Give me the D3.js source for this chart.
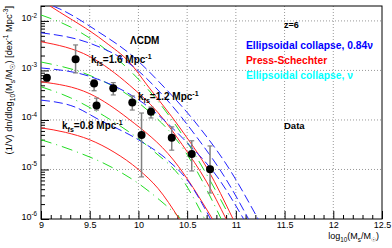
<!DOCTYPE html>
<html>
<head>
<meta charset="utf-8">
<script src="https://cdn.jsdelivr.net/npm/d3@7"></script>
<style>
  body { margin: 0; background: #fff; }
  svg { display: block; }
  text { font-family: "Liberation Sans", Arial, sans-serif; }
</style>
</head>
<body>
<div id="chart"></div>
<script>
// ---- data (log10 M_s, log10 phi) ----
const dataMass  = [9.06, 9.355, 9.545, 9.57, 9.742, 9.937, 10.032, 10.129, 10.342, 10.547, 10.735];
const dataPhi   = [-3.146, -2.774, -3.263, -3.707, -3.36, -3.65, -4.303, -3.832, -4.357, -4.687, -4.996];
const dataErrHi = [-3.09, -2.485, -3.19, -3.56, -3.246, -3.515, -3.86, -3.74, -4.14, -4.42, -4.525];
const dataErrLo = [-3.226, -3.05, -3.41, -3.80, -3.495, -3.80, -5.15, -3.96, -4.61, -5.03, -5.475];

// Press-Schechter (red)
const psLCDM = [[9,-1.58],[9.123,-1.737],[9.657,-2.424],[9.914,-2.848],[10.088,-3.293],[10.427,-4.162],[10.715,-5.01],[10.971,-6.0]];
const ps16   = [[9,-2.42],[9.5,-2.72],[9.91,-3.3],[10.2,-3.85],[10.45,-4.5],[10.7,-5.25],[10.9,-6.0]];
const ps12   = [[9,-3.23],[9.5,-3.47],[9.9,-3.98],[10.36,-4.81],[10.76,-6.0]];
const ps08   = [[9,-4.16],[9.25,-4.25],[9.5,-4.40],[9.75,-4.65],[10,-5.0],[10.2,-5.38],[10.42,-6.0]];

// Ellipsoidal collapse, 0.84 nu (blue)
const ec84LCDM = [[9,-1.62],[9.144,-1.717],[9.606,-2.242],[9.914,-2.667],[10.242,-3.293],[10.581,-4.04],[10.92,-4.95],[11.228,-6.0]];
const ec84_16  = [[9,-2.24],[9.5,-2.45],[9.9,-2.85],[10.25,-3.5],[10.6,-4.35],[10.9,-5.2],[11.13,-6.0]];
const ec84_12  = [[9,-2.95],[9.5,-3.12],[10.05,-3.66],[10.5,-4.46],[10.81,-5.15],[11.08,-6.0]];
const ec84_08  = [[9,-3.60],[9.35,-3.74],[9.6,-4.0],[10,-4.4],[10.3,-4.81],[10.5,-5.21],[10.74,-6.0]];

// Ellipsoidal collapse, nu (green)
const ecLCDM = [[9,-1.88],[9.3,-2.12],[9.6,-2.48],[9.9,-2.98],[10.2,-3.62],[10.5,-4.45],[10.8,-5.45],[10.95,-6.0]];
const ec16   = [[9,-2.83],[9.5,-3.1],[10,-3.65],[10.5,-4.7],[10.85,-6.0]];
const ec12   = [[9,-3.33],[9.3,-3.55],[9.65,-3.92],[10.15,-4.62],[10.45,-5.2],[10.68,-6.0]];
const ec08   = [[9,-4.40],[9.32,-4.61],[9.74,-4.97],[10.02,-5.31],[10.22,-5.62],[10.43,-5.98]];

const xTicks = [9, 9.5, 10, 10.5, 11, 11.5, 12, 12.5];
const yDecades = [-6, -5, -4, -3, -2];

// ---- layout ----
const W = 392, H = 248;
const plot = {left: 41, right: 382, top: 6, bottom: 219};

const svg = d3.select("#chart").append("svg")
  .attr("width", W).attr("height", H);

const x = d3.scaleLinear().domain([9, 12.5]).range([plot.left, plot.right]);
const y = d3.scaleLog().domain([1e-6, 0.02]).range([plot.bottom, plot.top]);
const p10 = v => Math.pow(10, v);

// rich text helper: parts = ["txt", ["sub","sub"], ["sup","sup"]]
function rich(sel, parts, fs) {
  let off = 0;
  parts.forEach(p => {
    const [txt, kind] = Array.isArray(p) ? p : [p, null];
    const target = kind === "sub" ? fs * 0.3 : kind === "sup" ? -fs * 0.42 : 0;
    sel.append("tspan")
      .attr("dy", target - off)
      .style("font-size", (kind ? fs * 0.7 : fs) + "px")
      .text(txt);
    off = target;
  });
  return sel;
}

svg.append("defs").append("clipPath").attr("id", "clip")
  .append("rect")
  .attr("x", plot.left).attr("y", plot.top)
  .attr("width", plot.right - plot.left).attr("height", plot.bottom - plot.top);

// grid
const grid = svg.append("g").attr("class", "grid");
grid.selectAll(".gx").data(xTicks.slice(1, -1)).enter().append("line")
  .attr("x1", d => x(d)).attr("x2", d => x(d))
  .attr("y1", plot.top).attr("y2", plot.bottom)
  .attr("stroke", "#999").attr("stroke-dasharray", "1,2");
grid.selectAll(".gy").data(yDecades.slice(1)).enter().append("line")
  .attr("x1", plot.left).attr("x2", plot.right)
  .attr("y1", d => y(p10(d))).attr("y2", d => y(p10(d)))
  .attr("stroke", "#999").attr("stroke-dasharray", "1,2");

// axes (ROOT style: ticks inside)
const minorX = d3.range(90, 126).map(d => d / 10).filter(d => Math.abs(d * 2 - Math.round(d * 2)) > 1e-6);
svg.append("g").attr("transform", `translate(0,${plot.bottom})`)
  .call(d3.axisBottom(x).tickValues(minorX).tickSize(-4).tickFormat(""))
  .call(g => g.select(".domain").remove());
const xAxis = svg.append("g").attr("transform", `translate(0,${plot.bottom})`)
  .call(d3.axisBottom(x).tickValues(xTicks).tickSize(-8).tickPadding(3).tickFormat(d3.format("")))
  .call(g => g.select(".domain").remove());
xAxis.selectAll("text").style("font-size", "9px").attr("fill", "#000");

const minorY = [];
yDecades.forEach(e => { for (let k = 2; k <= 9; k++) { const v = k * p10(e); if (v <= 0.02) minorY.push(v); } });
svg.append("g").attr("transform", `translate(${plot.left},0)`)
  .call(d3.axisLeft(y).tickValues(minorY).tickSize(-4).tickFormat(""))
  .call(g => g.select(".domain").remove());
const yAxis = svg.append("g").attr("transform", `translate(${plot.left},0)`)
  .call(d3.axisLeft(y).tickValues(yDecades.map(p10)).tickSize(-8).tickPadding(4).tickFormat(""))
  .call(g => g.select(".domain").remove());
yAxis.selectAll(".tick").append("text")
  .attr("x", -4).attr("dy", "0.32em").attr("text-anchor", "end").attr("fill", "#000")
  .each(function(d) {
    rich(d3.select(this), ["10", [String(Math.round(Math.log10(d))), "sup"]], 9);
  });

// frame
svg.append("rect")
  .attr("x", plot.left).attr("y", plot.top)
  .attr("width", plot.right - plot.left).attr("height", plot.bottom - plot.top)
  .attr("fill", "none").attr("stroke", "#000");

// model curves
const line = d3.line().x(d => x(d[0])).y(d => y(p10(d[1]))).curve(d3.curveMonotoneX);
const curves = svg.append("g").attr("clip-path", "url(#clip)");
const models = [
  {sets: [ecLCDM, ec16, ec12, ec08], color: "#22dd22", dash: "11,5,1,5"},
  {sets: [psLCDM, ps16, ps12, ps08], color: "#ff2222", dash: null},
  {sets: [ec84LCDM, ec84_16, ec84_12, ec84_08], color: "#2222ff", dash: "9,4"}
];
models.forEach(m => {
  curves.selectAll(null).data(m.sets).enter().append("path")
    .attr("d", line)
    .attr("fill", "none")
    .attr("stroke", m.color)
    .attr("stroke-width", 1)
    .attr("stroke-dasharray", m.dash);
});

// data points with error bars
const pts = dataMass.map((m, i) => ({m, phi: dataPhi[i], hi: dataErrHi[i], lo: dataErrLo[i]}));
const errG = svg.append("g");
errG.selectAll(".eb").data(pts).enter().append("line")
  .attr("x1", d => x(d.m)).attr("x2", d => x(d.m))
  .attr("y1", d => y(p10(d.hi))).attr("y2", d => y(p10(d.lo)))
  .attr("stroke", "#808080").attr("stroke-width", 1.5);
["hi", "lo"].forEach(k => {
  errG.selectAll(null).data(pts).enter().append("line")
    .attr("x1", d => x(d.m) - 2.5).attr("x2", d => x(d.m) + 2.5)
    .attr("y1", d => y(p10(d[k]))).attr("y2", d => y(p10(d[k])))
    .attr("stroke", "#808080").attr("stroke-width", 1.2);
});
errG.selectAll("circle").data(pts).enter().append("circle")
  .attr("cx", d => x(d.m)).attr("cy", d => y(p10(d.phi)))
  .attr("r", 4).attr("fill", "#000");

// labels in plot
function label(px, py, parts, fs, color, anchor) {
  const t = svg.append("text").attr("x", px).attr("y", py)
    .attr("fill", color || "#000").style("font-weight", "bold")
    .attr("text-anchor", anchor || "start");
  return rich(t, parts, fs);
}
label(130, 44, ["\u039BCDM"], 10);
label(91, 63, ["k", ["fs", "sub"], "=1.6 Mpc", ["-1", "sup"]], 10);
label(138, 100, ["k", ["fs", "sub"], "=1.2 Mpc", ["-1", "sup"]], 10);
label(62, 129, ["k", ["fs", "sub"], "=0.8 Mpc", ["-1", "sup"]], 10);
label(284, 28, ["z=6"], 9);
label(246, 48.5, ["Ellipsoidal collapse, 0.84\u03BD"], 10.3, "#0000ff");
label(246, 64, ["Press-Schechter"], 10.3, "#ff0000");
label(246, 78.5, ["Ellipsoidal collapse, \u03BD"], 10.3, "#00ffff");
label(284, 129, ["Data"], 9.5);

// axis titles
const xt = svg.append("text").attr("x", 379).attr("y", 239).attr("text-anchor", "end").attr("fill", "#000");
rich(xt, ["log", ["10", "sub"], "(M", ["s", "sub"], "/M", ["\u2609", "sub"], ")"], 9);
const yt = svg.append("text").attr("transform", "translate(12,6) rotate(-90)")
  .attr("text-anchor", "end").attr("fill", "#000");
rich(yt, ["(1/V) dn/dlog", ["10", "sub"], "(M", ["s", "sub"], "/M", ["\u2609", "sub"], ") [dex", ["-1", "sup"], " Mpc", ["-3", "sup"], "]"], 9.3);
</script>
</body>
</html>
